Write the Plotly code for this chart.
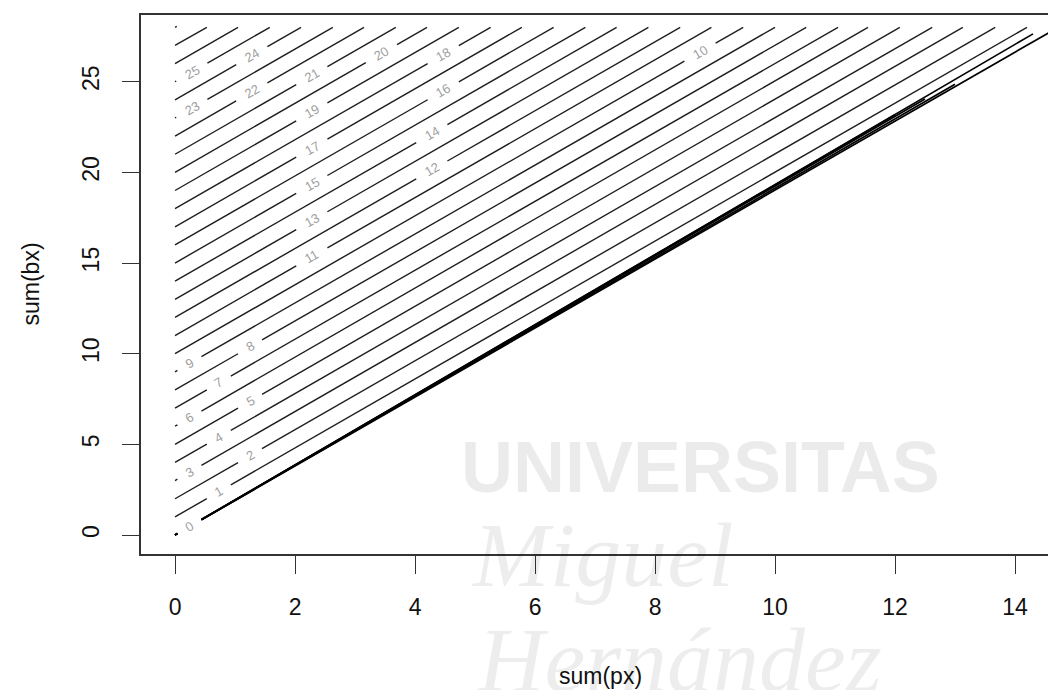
import plotly.graph_objects as go

# ---------------- data ----------------
# contour levels that start on the y axis at (sum(px)=0, sum(bx)=level)
levels = list(range(1, 29))
# sum(px) where each of those levels reaches the top of the grid (sum(bx)=28)
x_end = [14.20, 13.67, 13.13, 12.62, 12.08, 11.55, 11.05, 10.52, 10.00, 9.47,
         8.94, 8.42, 7.89, 7.36, 6.84, 6.31, 5.78, 5.26, 4.73, 4.20,
         3.68, 3.15, 2.63, 2.10, 1.58, 1.05, 0.53, 0.03]
y_top = 28.0

# level 0: a tight bundle of contour lines leaving the origin
zero_x_end = [14.72, 13.00, 12.50, 12.00, 14.30]
zero_y_end = [28.00, 24.86, 24.05, 23.18, 27.64]

# contour labels (level, sum(px) position along its line)
label_levels = [0, 1, 2, 3, 4, 5, 6, 7, 8, 9, 10, 11, 12, 13, 14, 15, 16, 17,
                18, 19, 20, 21, 22, 23, 24, 25]
label_px = [0.24, 0.73, 1.25, 0.24, 0.73, 1.25, 0.24, 0.73, 1.25, 0.24, 8.75,
            2.28, 4.28, 2.28, 4.28, 2.28, 4.47, 2.28, 4.47, 2.28, 3.44, 2.28,
            1.28, 0.28, 1.28, 0.28]

x_ticks = [0, 2, 4, 6, 8, 10, 12, 14]
y_ticks = [0, 5, 10, 15, 20, 25]

watermark_text = ["UNIVERSITAS", "Miguel", "Hernández"]

# ---------------- helpers ----------------
LINE_COLOR = "#1e1e1e"
LABEL_COLOR = "#a0a0a0"
FONT = "Liberation Sans, Arial, Helvetica, sans-serif"
SERIF = "Liberation Serif, Times New Roman, serif"

# page offset: the browser body adds 8px around the figure
W, H, OFF = 1048, 682, 8
PLOT_LEFT, PLOT_TOP, PLOT_BOTTOM = 141, 15, 554          # page pixels
plot_l, plot_t, plot_b = PLOT_LEFT - OFF, PLOT_TOP - OFF, 690 - PLOT_BOTTOM
plot_w = W - plot_l
plot_h = H - plot_t - plot_b


def paper_x(px_page):
    return (px_page - PLOT_LEFT) / plot_w


def paper_y(py_page):
    return (PLOT_BOTTOM - py_page) / plot_h


def half_gap(text):
    return 0.20 if len(text) == 1 else 0.26


def y_on(x, x0, y0, x1, y1):
    if x1 == x0:
        return y0
    return y0 + (y1 - y0) * (x - x0) / (x1 - x0)


def segment_with_gaps(x0, y0, x1, y1, gaps, xs, ys):
    cur = x0
    for a, b in sorted(gaps):
        if b <= x0 or a >= x1:
            continue
        a = max(a, x0)
        if a > cur:
            xs += [cur, a, None]
            ys += [y_on(cur, x0, y0, x1, y1), y_on(a, x0, y0, x1, y1), None]
        cur = max(cur, min(b, x1))
    if x1 > cur:
        xs += [cur, x1, None]
        ys += [y_on(cur, x0, y0, x1, y1), y_on(x1, x0, y0, x1, y1), None]


label_map = {lv: px for lv, px in zip(label_levels, label_px)}

# regular levels
lx, ly = [], []
for lv, xe in zip(levels, x_end):
    gaps = []
    if lv in label_map:
        p = label_map[lv]
        h = half_gap(str(lv))
        gaps.append((p - h, p + h))
    segment_with_gaps(0.0, float(lv), xe, y_top if lv < 28 else 28.05, gaps, lx, ly)

# level-0 bundle
zx, zy = [], []
p0 = label_map[0]
for xe, ye in zip(zero_x_end, zero_y_end):
    segment_with_gaps(0.0, 0.0, xe, ye, [(p0 - half_gap("0"), p0 + half_gap("0"))], zx, zy)

fig = go.Figure()

fig.add_trace(go.Scatter(x=lx, y=ly, mode="lines",
                         line=dict(color=LINE_COLOR, width=1.4),
                         hoverinfo="skip", showlegend=False))
fig.add_trace(go.Scatter(x=zx, y=zy, mode="lines",
                         line=dict(color="#000000", width=1.7),
                         hoverinfo="skip", showlegend=False))

# contour labels
annotations = []
for lv, p in zip(label_levels, label_px):
    if lv == 0:
        yv = y_on(p, 0.0, 0.0, zero_x_end[0], zero_y_end[0])
    else:
        xe = x_end[levels.index(lv)]
        yv = y_on(p, 0.0, float(lv), xe, y_top)
    annotations.append(dict(x=p, y=yv, xref="x", yref="y", text=str(lv),
                            showarrow=False, textangle=-30,
                            font=dict(family=FONT, size=13, color=LABEL_COLOR)))

# faint watermark, semi-transparent so dark marks stay dark underneath
wm_pos = [(700, 467), (602, 555), (679, 660)]          # page pixel centres
wm_fonts = [
    dict(family=FONT, size=72, color="rgba(0,0,0,0.08)", weight="bold"),
    dict(family=SERIF, size=92, color="rgba(0,0,0,0.07)", style="italic"),
    dict(family=SERIF, size=92, color="rgba(0,0,0,0.07)", style="italic"),
]
for t, (cx, cy), f in zip(watermark_text, wm_pos, wm_fonts):
    annotations.append(dict(x=paper_x(cx), y=paper_y(cy), xref="paper", yref="paper",
                            text=t, showarrow=False, xanchor="center",
                            yanchor="middle", font=f))

# axis titles
annotations.append(dict(text="sum(px)", xref="paper", yref="paper", x=paper_x(600),
                        y=paper_y(676), xanchor="center", yanchor="middle",
                        showarrow=False,
                        font=dict(family=FONT, size=23, color="#111111")))
annotations.append(dict(text="sum(bx)", xref="paper", yref="paper",
                        x=paper_x(30), y=0.5, xanchor="center",
                        yanchor="middle", textangle=-90, showarrow=False,
                        font=dict(family=FONT, size=23, color="#111111")))

axis_common = dict(ticks="outside", tickwidth=1.3, tickcolor="#333333",
                   showline=True, linecolor="#333333", linewidth=1.5,
                   showgrid=False, zeroline=False,
                   tickfont=dict(family=FONT, size=23, color="#111111"))

fig.update_layout(
    width=W, height=H,
    margin=dict(l=plot_l, r=0, t=plot_t, b=plot_b),
    plot_bgcolor="white", paper_bgcolor="white",
    showlegend=False,
    annotations=annotations,
    xaxis=dict(range=[-0.567, 14.683], tickvals=x_ticks, ticklen=18,
               mirror=True, ticklabelstandoff=14, **axis_common),
    yaxis=dict(range=[-1.048, 28.68], tickvals=y_ticks, ticklen=17,
               tickangle=-90, mirror=False, ticklabelstandoff=14, **axis_common),
)

fig.write_html("out.html")
